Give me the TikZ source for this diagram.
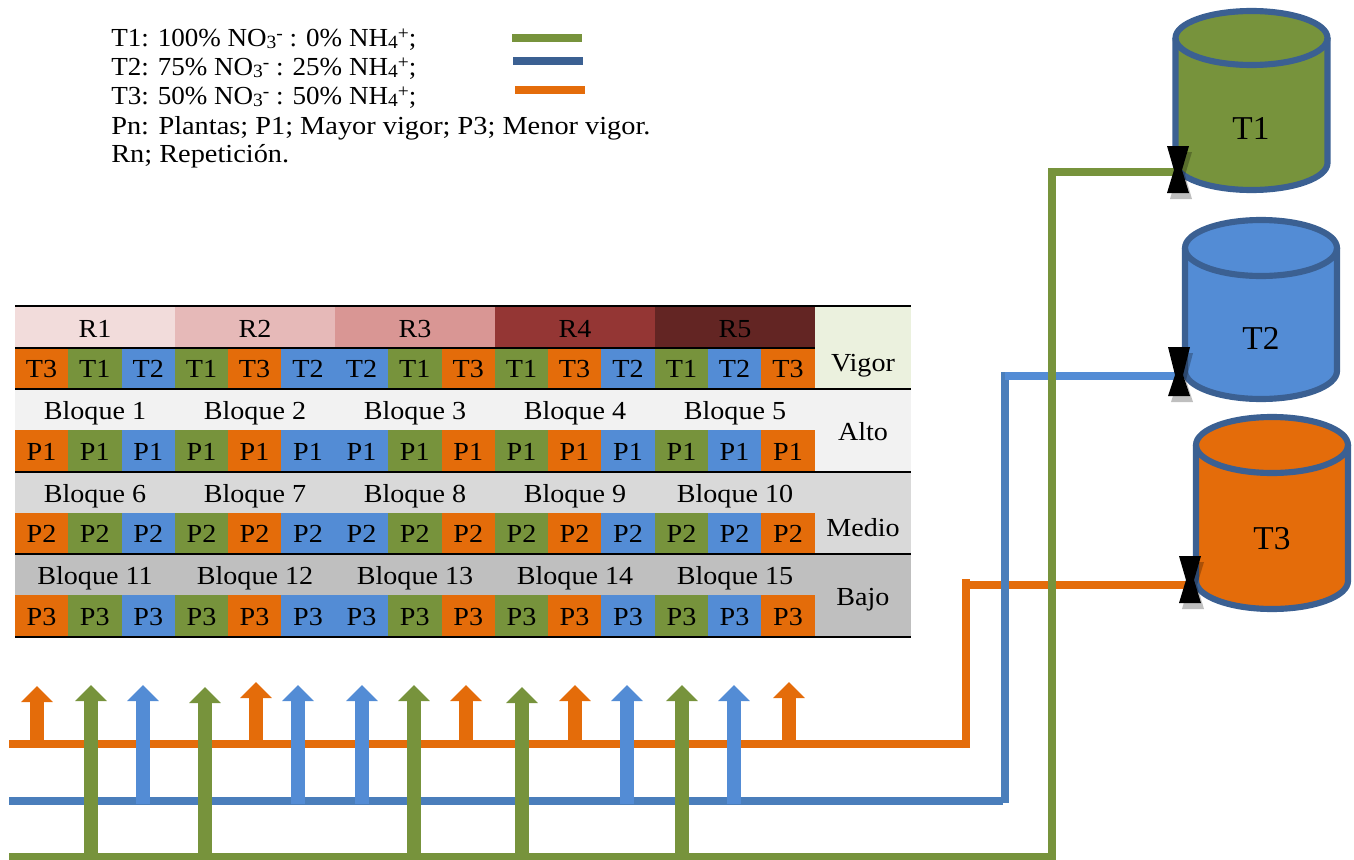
\documentclass[tikz,border=0pt]{standalone}
\usepackage{fontspec}
\setmainfont{Liberation Serif}
\newfontfamily\bookish[FakeStretch=1.08]{Liberation Serif}
\newfontfamily\bookishA[FakeStretch=1.04]{Liberation Serif}
\newfontfamily\bookishB[FakeStretch=1.09]{Liberation Serif}
\usetikzlibrary{arrows.meta}
\definecolor{cgreen}{HTML}{77933C}
\definecolor{cblue}{HTML}{538CD5}
\definecolor{cline}{HTML}{4A7EBB}
\definecolor{cedge}{HTML}{3B6092}
\definecolor{corange}{HTML}{E46C0A}
\definecolor{rA}{HTML}{F2DCDB}
\definecolor{rB}{HTML}{E6B9B8}
\definecolor{rC}{HTML}{D99694}
\definecolor{rD}{HTML}{943634}
\definecolor{rE}{HTML}{632523}
\definecolor{vV}{HTML}{EBF1DE}
\definecolor{vA}{HTML}{F2F2F2}
\definecolor{vM}{HTML}{D9D9D9}
\definecolor{vB}{HTML}{BFBFBF}
\newcommand{\nosub}{\raisebox{-1.2pt}{\scalebox{.72}{3}}\raisebox{5pt}{\scalebox{.72}{-}}}
\newcommand{\nhsub}{\raisebox{-1.2pt}{\scalebox{.72}{4}}\raisebox{5pt}{\scalebox{.72}{+}}}
\tikzset{
  x=0.75pt,y=-0.75pt,
  txt/.style={font=\bookish\fontsize{19.5}{22}\selectfont,text=black},
  cell/.style={txt,inner sep=0pt,outer sep=0pt,text height=13pt,text depth=0pt,anchor=center,yshift=-0.6pt},
  legendtxt/.style={txt,inner sep=0pt,anchor=base west},
  legendchem/.style={legendtxt,font=\bookishA\fontsize{19.5}{22}\selectfont},
  legendwide/.style={legendtxt,font=\bookishB\fontsize{19.5}{22}\selectfont},
  rule/.style={line width=1.5pt,black},
  pipe/.style={line width=6pt,line cap=butt,line join=miter},
  legendline/.style={line width=5.4pt},
  up/.style={line width=11pt,-{Triangle[length=12pt,width=23pt]}},
  tank/.style={line width=4.6pt,draw=cedge,line join=round},
  tanklabel/.style={font=\fontsize{25}{28}\selectfont,inner sep=0pt},
  valve/.style={fill=black},
  valveshade/.style={fill=black,opacity=.25},
}
\newcommand{\tankshape}[5]{% cx, cy, ry, sideend, fill
  \fill[#5] (#1-76,#2) -- (#1-76,#4)
     .. controls (#1-76,#4+.55*#3) and (#1-42,#4+#3) .. (#1,#4+#3)
     .. controls (#1+42,#4+#3) and (#1+76,#4+.55*#3) .. (#1+76,#4) -- (#1+76,#2) -- cycle;
  \fill[#5] (#1,#2) ellipse[x radius=76,y radius=#3];
  \draw[tank] (#1-76,#2) -- (#1-76,#4)
     .. controls (#1-76,#4+.55*#3) and (#1-42,#4+#3) .. (#1,#4+#3)
     .. controls (#1+42,#4+#3) and (#1+76,#4+.55*#3) .. (#1+76,#4) -- (#1+76,#2);
  \draw[tank] (#1,#2) ellipse[x radius=76,y radius=#3];}
\newcommand{\valveshape}[4]{% cx, top, waist, bottom
  \fill[valveshade] (#1-8,#2+6) -- (#1+14,#2+6) -- (#1+7,#3+5) -- (#1+14,#4+6) -- (#1-8,#4+6) -- (#1-1,#3+5) -- cycle;
  \fill[valve] (#1-11,#2) -- (#1+11,#2) -- (#1+4,#3) -- (#1+11,#4) -- (#1-11,#4) -- (#1-4,#3) -- cycle;}
\begin{document}
\begin{tikzpicture}
\useasboundingbox (0,0) rectangle (1354,860);

% legend
\node[legendchem] (l1) at (111,46.5) {T1: 100\% NO\nosub{} : 0\% NH\nhsub;};
\node[legendchem] (l2) at (111,75.5) {T2: 75\% NO\nosub{} : 25\% NH\nhsub;};
\node[legendchem] (l3) at (111,104.5) {T3: 50\% NO\nosub{} : 50\% NH\nhsub;};
\node[legendwide] (l4) at (111,134) {Pn: Plantas; P1; Mayor vigor; P3; Menor vigor.};
\node[legendwide] (l5) at (111,162) {Rn; Repetición.};
\coordinate (gA) at (512,38); \coordinate (gB) at (582,38);
\coordinate (bA) at (513,61); \coordinate (bB) at (583,61);
\coordinate (oA) at (515,90); \coordinate (oB) at (585,90);
\draw[legendline,cgreen] (gA) -- (gB);
\draw[legendline,cedge] (bA) -- (bB);
\draw[legendline,corange] (oA) -- (oB);

% header row R1..R5
\foreach \n/\a/\b/\c in {1/15/175/rA,2/175/335/rB,3/335/495/rC,4/495/655/rD,5/655/815/rE}{
  \fill[\c] (\a,307) rectangle (\b,348);
  \node[cell] (R\n) at ({(\a+\b)/2},328) {R\n};
}
% right column bands
\fill[vV] (815,307) rectangle (911,389);
\fill[vA] (15,389) rectangle (911,472);
\fill[vM] (15,472) rectangle (911,554);
\fill[vB] (15,554) rectangle (911,637);
\node[cell] (vigor) at (863,362) {Vigor};
\node[cell] (alto) at (863,431) {Alto};
\node[cell] (medio) at (863,527) {Medio};
\node[cell] (bajo) at (863,596) {Bajo};

% cell rows
\def\cols{1/15/68/corange/T3,2/68/121.5/cgreen/T1,3/121.5/175/cblue/T2,4/175/228/cgreen/T1,5/228/281/corange/T3,6/281/335/cblue/T2,7/335/388/cblue/T2,8/388/441.5/cgreen/T1,9/441.5/495/corange/T3,10/495/548/cgreen/T1,11/548/601/corange/T3,12/601/655/cblue/T2,13/655/708/cgreen/T1,14/708/761/cblue/T2,15/761/815/corange/T3}
\foreach \i/\a/\b/\c/\t in \cols{
  \fill[\c] (\a,348) rectangle (\b,389);
  \node[cell] (t\i) at ({(\a+\b)/2},368.5) {\t};
  \foreach \r/\ya/\yb in {1/430/472,2/513/554,3/595/637}{
    \fill[\c] (\a,\ya) rectangle (\b,\yb);
    \node[cell] (p\r-\i) at ({(\a+\b)/2},{(\ya+\yb)/2}) {P\r};
  }
}
% bloque labels
\foreach \n/\x/\y in {1/95/410,2/255/410,3/415/410,4/575/410,5/735/410,
                      6/95/493,7/255/493,8/415/493,9/575/493,10/735/493,
                      11/95/575,12/255/575,13/415/575,14/575/575,15/735/575}{
  \node[cell] (blq\n) at (\x,\y) {Bloque \n};
}
% rules
\coordinate (ruleAl) at (15,306); \coordinate (ruleAr) at (911,306);
\coordinate (ruleBl) at (15,348); \coordinate (ruleBr) at (815,348);
\coordinate (ruleCl) at (15,389); \coordinate (ruleCr) at (911,389);
\coordinate (ruleDl) at (15,472); \coordinate (ruleDr) at (911,472);
\coordinate (ruleEl) at (15,554); \coordinate (ruleEr) at (911,554);
\coordinate (ruleFl) at (15,637); \coordinate (ruleFr) at (911,637);
\foreach \k in {A,B,C,D,E,F}{\draw[rule] (rule\k l) -- (rule\k r);}

% tanks
\tankshape{1251.5}{38}{27}{163}{cgreen}
\tankshape{1261}{248}{28}{371}{cblue}
\tankshape{1272}{445}{28}{581}{corange}
\node[tanklabel] (T1) at (1251,128) {T1};
\node[tanklabel] (T2) at (1261,338) {T2};
\node[tanklabel] (T3) at (1272,539) {T3};

% pipes
\coordinate (oS) at (9,744); \coordinate (oC) at (963,744);
\coordinate (oE) at (966,748); \coordinate (oD) at (966,579);
\coordinate (oF) at (966,585); \coordinate (oV) at (1190,585);
\coordinate (bS) at (9,801); \coordinate (bC) at (1003,801);
\coordinate (bE) at (1005,803); \coordinate (bD) at (1005,372);
\coordinate (bF) at (1005,376); \coordinate (bV) at (1179,376);
\coordinate (gS) at (9,857); \coordinate (gC) at (1052,857); \coordinate (gD) at (1052,172); \coordinate (gV) at (1178,172);
\draw[pipe,corange] (oS) -- (oC);
\draw[pipe,corange] (oE) -- (oD);
\draw[pipe,corange] (oF) -- (oV);
\draw[pipe,cline] (bS) -- (bC);
\draw[pipe,cline] (bE) -- (bD);
\draw[pipe,cblue] (bF) -- (bV);
\draw[pipe,cgreen] (gS) -- (gC) -- (gD) -- (gV);

% block arrows
\foreach \n/\x/\t in {1/37/686,5/256/682,9/466/685,11/575/685,15/789/682}{
  \coordinate (ao\n) at (\x,\t); \coordinate (aob\n) at (\x,741);
  \draw[up,corange] (aob\n) -- (ao\n);
}
\foreach \n/\x/\t in {3/143/685,6/298/685,7/362/685,12/627/685,14/734/685}{
  \coordinate (ab\n) at (\x,\t); \coordinate (abb\n) at (\x,804);
  \draw[up,cblue] (abb\n) -- (ab\n);
}
\foreach \n/\x/\t in {2/91/685,4/205/687,8/414/685,10/522/687,13/682/685}{
  \coordinate (ag\n) at (\x,\t); \coordinate (agb\n) at (\x,857);
  \draw[up,cgreen] (agb\n) -- (ag\n);
}

% valves
\valveshape{1178}{146}{170}{193}
\valveshape{1179}{347}{375}{396}
\valveshape{1190}{556}{580}{603}
\end{tikzpicture}
\end{document}
